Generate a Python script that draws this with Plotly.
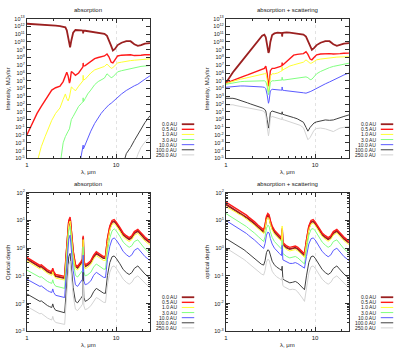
import plotly.graph_objects as go

# ---------------- data ----------------
labels = ["0.0 AU", "0.5 AU", "1.0 AU", "3.0 AU", "10.0 AU", "100.0 AU", "250.0 AU"]
colors = ["#9b2020", "#ff1a1a", "#ffff33", "#80ff80", "#5a5aff", "#404040", "#d3d3d3"]
widths = [1.8, 1.4, 1.0, 1.0, 1.0, 1.0, 1.0]

# wavelength grid for intensity panels (micron)
lam_int = [1.0, 1.1, 1.2, 1.3, 1.45, 1.6, 1.75, 1.9, 2.1, 2.35, 2.55, 2.7, 2.8, 2.9, 3.0,
           3.05, 3.15, 3.3, 3.5, 3.8, 4.1, 4.25, 4.27, 4.3, 4.5, 4.8, 5.2, 5.75, 6.3, 6.8,
           7.4, 7.9, 8.3, 8.8, 9.2, 9.7, 10.4, 11.5, 13, 14.5, 16, 17.5, 19, 21, 24]

# log10 intensity (MJy/sr), absorption only
abs_int_00 = [12.35, 12.33, 12.3, 12.28, 12.25, 12.22, 12.2, 12.15, 12.1, 12.05, 12.0, 11.9, 11.5, 10.5, 9.4,
              9.3, 10.2, 11.2, 11.55, 11.55, 11.5, 11.45, 11.1, 11.45, 11.45, 11.4, 11.35, 11.2, 11.15, 11.1,
              11.05, 10.8, 10.3, 9.5, 8.9, 9.1, 9.6, 9.9, 10.1, 10.1, 9.7, 9.5, 9.6, 9.8, 9.85]
abs_int_05 = [-2.0, -0.9, 0.0, 0.8, 1.7, 2.5, 3.2, 3.8, 4.1, 4.3, 4.9, 5.5, 6.1, 5.6, 4.7,
              5.0, 6.2, 6.0, 5.7, 6.0, 6.6, 6.8, 7.3, 6.9, 6.95, 7.2, 7.5, 7.85, 8.0, 8.1,
              8.2, 8.45, 8.1, 7.4, 7.3, 7.7, 8.2, 8.3, 8.35, 8.35, 8.25, 8.25, 8.3, 8.35, 8.35]
abs_int_10 = [-12.0, -10.0, -7.0, -5.5, -3.5, -2.2, -1.0, -0.1, 0.8, 1.5, 2.6, 3.3, 2.7, 2.4, 2.9,
              3.6, 4.2, 4.0, 3.7, 4.3, 4.8, 5.0, 5.7, 5.1, 5.2, 5.6, 6.0, 6.4, 6.6, 6.7,
              6.85, 7.15, 6.9, 6.6, 6.7, 7.0, 7.3, 7.4, 7.55, 7.6, 7.65, 7.7, 7.75, 7.8, 7.83]
abs_int_30 = [-20.0, -18.0, -17.0, -16.0, -15.0, -14.0, -13.0, -12.0, -10.0, -6.0, -3.0, -2.2, -1.7, -1.5, -1.2,
              -0.8, 0.0, 0.4, 1.0, 1.7, 2.1, 2.3, 2.8, 2.3, 2.7, 3.3, 3.8, 4.5, 4.9, 5.1,
              5.35, 5.9, 5.7, 5.4, 5.5, 5.8, 6.15, 6.3, 6.45, 6.55, 6.7, 6.8, 6.85, 6.9, 6.97]
abs_int_100 = [-30.0, -29.0, -28.0, -27.0, -26.0, -25.0, -24.0, -23.0, -22.0, -20.0, -18.0, -16.0, -15.0, -14.0, -13.0,
               -12.0, -11.0, -10.0, -9.0, -6.5, -4.3, -3.8, -3.3, -3.8, -3.2, -2.3, -1.5, -0.5, 0.3, 0.8,
               1.3, 1.7, 1.9, 2.1, 2.3, 2.6, 2.9, 3.3, 3.75, 4.1, 4.35, 4.55, 4.8, 5.2, 5.65]
abs_int_1000 = [-40.0] * 30 + [-30.0, -25.0, -20.0, -16.0, -14.0, -12.0, -10.0, -6.5, -4.4, -3.6, -2.7, -1.9, -1.2, -0.4, 0.5]
abs_int_2500 = [-40.0] * 35 + [-20.0, -16.0, -12.0, -9.0, -7.5, -5.8, -4.5, -3.6, -2.9, -2.2]

# log10 intensity (MJy/sr), absorption + scattering
sca_int_00 = [4.7, 5.5, 6.1, 6.6, 7.3, 7.9, 8.5, 9.0, 9.7, 10.3, 10.8, 10.95, 10.6, 9.6, 8.6,
              8.8, 10.0, 10.9, 11.1, 11.2, 11.2, 11.15, 10.7, 11.15, 11.2, 11.25, 11.2, 11.15, 11.1, 11.05,
              10.95, 10.7, 10.2, 9.4, 9.0, 9.2, 9.6, 9.9, 10.1, 10.1, 9.7, 9.5, 9.6, 9.8, 9.85]
sca_int_05 = [4.7, 4.9, 5.1, 5.25, 5.45, 5.6, 5.75, 5.9, 6.1, 6.3, 6.45, 6.6, 6.9, 6.0, 4.3,
              4.6, 6.3, 6.6, 6.6, 6.7, 6.85, 6.95, 7.35, 7.0, 7.2, 7.5, 7.9, 8.3, 8.4, 8.45,
              8.5, 8.75, 8.4, 7.8, 7.7, 8.0, 8.35, 8.45, 8.5, 8.5, 8.45, 8.45, 8.5, 8.55, 8.56]
sca_int_10 = [4.65, 4.8, 4.95, 5.05, 5.2, 5.3, 5.4, 5.5, 5.6, 5.7, 5.8, 5.9, 6.0, 5.2, 3.6,
              3.9, 5.6, 5.9, 5.9, 6.0, 6.2, 6.3, 6.8, 6.35, 6.5, 6.7, 6.9, 7.05, 7.2, 7.3,
              7.4, 7.7, 7.5, 7.25, 7.3, 7.5, 7.7, 7.8, 7.9, 7.95, 8.0, 8.05, 8.07, 8.1, 8.1]
sca_int_30 = [4.55, 4.65, 4.75, 4.8, 4.88, 4.92, 4.95, 4.97, 5.0, 5.0, 5.0, 5.0, 4.9, 4.3, 3.2,
              3.5, 4.8, 5.0, 5.0, 5.05, 5.1, 5.1, 5.45, 5.1, 5.1, 5.15, 5.2, 5.25, 5.3, 5.35,
              5.4, 5.5, 5.4, 5.15, 5.2, 5.5, 5.9, 6.2, 6.5, 6.7, 6.85, 6.95, 7.05, 7.15, 7.27]
sca_int_100 = [4.16, 4.22, 4.28, 4.32, 4.33, 4.33, 4.32, 4.3, 4.28, 4.25, 4.2, 4.15, 4.0, 3.2, 2.1,
               2.4, 3.7, 3.9, 3.85, 3.85, 3.8, 3.8, 4.2, 3.8, 3.75, 3.72, 3.7, 3.65, 3.6, 3.55,
               3.45, 3.4, 3.45, 3.6, 3.7, 3.85, 4.05, 4.3, 4.6, 4.85, 5.05, 5.3, 5.5, 5.75, 6.0]
sca_int_1000 = [2.74, 2.76, 2.74, 2.65, 2.5, 2.3, 2.15, 2.0, 1.85, 1.7, 1.5, 1.35, 1.1, 0.0, -1.1,
                -0.7, 0.9, 1.1, 1.0, 0.9, 0.75, 0.7, 1.0, 0.7, 0.62, 0.5, 0.4, 0.25, 0.1, -0.1,
                -0.35, -1.0, -1.5, -1.0, -0.7, -0.45, -0.3, -0.15, -0.05, -0.1, -0.05, 0.1, 0.2, 0.4, 0.6]
sca_int_2500 = [1.9, 1.95, 1.9, 1.8, 1.7, 1.6, 1.5, 1.45, 1.4, 1.3, 1.15, 1.0, 0.6, -0.9, -2.1,
                -1.6, 0.2, 0.4, 0.3, 0.2, 0.05, 0.0, 0.3, 0.0, -0.05, -0.15, -0.25, -0.4, -0.55, -0.75,
                -1.05, -1.8, -2.6, -2.3, -1.8, -1.4, -1.15, -1.1, -1.2, -1.4, -1.55, -1.3, -1.1, -1.0, -0.9]

# wavelength grid for optical depth panels (micron)
lam_tau = [1.0, 1.1, 1.2, 1.3, 1.4, 1.45, 1.5, 1.6, 1.7, 1.8, 1.9, 1.95, 2.0, 2.1, 2.3, 2.5, 2.65,
           2.75, 2.85, 2.95, 3.05, 3.15, 3.3, 3.5, 3.7, 4.0, 4.2, 4.27, 4.35, 4.5, 4.8, 5.2, 5.6,
           6.0, 6.4, 6.8, 7.2, 7.6, 8.0, 8.5, 9.0, 9.5, 10.0, 11, 12, 13, 14, 15, 16, 17.5, 19, 21, 24]

# log10 optical depth, absorption only
abs_tau_00 = [-0.39, -0.48, -0.56, -0.63, -0.68, -0.66, -0.7, -0.78, -0.84, -0.88, -0.91, -0.78, -0.91, -1.01, -1.04, -1.06, -1.08,
              -0.36, 0.54, 0.94, 1.06, 0.54, -0.16, -0.66, -0.71, -0.56, -0.46, 0.39, -0.51, -0.66, -0.61, -0.51, -0.31,
              -0.19, -0.24, -0.31, -0.36, -0.36, 0.29, 0.74, 0.94, 0.97, 0.89, 0.69, 0.49, 0.39, 0.32, 0.39, 0.54, 0.62, 0.49, 0.34, 0.19]
abs_tau_05 = [-0.33, -0.42, -0.5, -0.57, -0.62, -0.6, -0.64, -0.72, -0.78, -0.82, -0.85, -0.72, -0.85, -0.95, -0.98, -1.0, -1.02,
              -0.3, 0.6, 1.0, 1.12, 0.6, -0.1, -0.6, -0.65, -0.5, -0.4, 0.45, -0.45, -0.6, -0.55, -0.45, -0.25,
              -0.13, -0.18, -0.25, -0.3, -0.3, 0.35, 0.8, 1.0, 1.03, 0.95, 0.75, 0.55, 0.45, 0.38, 0.45, 0.6, 0.68, 0.55, 0.4, 0.25]
abs_tau_10 = [-0.46, -0.55, -0.63, -0.7, -0.75, -0.73, -0.77, -0.85, -0.91, -0.95, -0.98, -0.85, -0.98, -1.08, -1.11, -1.13, -1.15,
              -0.44, 0.46, 0.86, 0.98, 0.46, -0.24, -0.74, -0.79, -0.64, -0.54, 0.31, -0.59, -0.74, -0.69, -0.59, -0.39,
              -0.27, -0.32, -0.39, -0.44, -0.44, 0.21, 0.66, 0.86, 0.89, 0.81, 0.61, 0.41, 0.31, 0.24, 0.31, 0.46, 0.54, 0.41, 0.26, 0.11]
abs_tau_30 = [-0.79, -0.87, -0.94, -1.0, -1.05, -1.03, -1.07, -1.14, -1.2, -1.24, -1.27, -1.14, -1.27, -1.37, -1.41, -1.43, -1.45,
              -0.7, 0.22, 0.65, 0.78, 0.24, -0.46, -0.98, -1.04, -0.9, -0.8, 0.05, -0.86, -1.0, -0.96, -0.87, -0.68,
              -0.57, -0.63, -0.7, -0.75, -0.76, -0.1, 0.37, 0.62, 0.7, 0.63, 0.43, 0.22, 0.11, 0.03, 0.09, 0.24, 0.3, 0.15, -0.02, -0.19]
abs_tau_100 = [-1.12, -1.2, -1.27, -1.33, -1.38, -1.36, -1.4, -1.47, -1.53, -1.57, -1.6, -1.47, -1.6, -1.7, -1.74, -1.76, -1.78,
               -1.0, -0.1, 0.33, 0.47, -0.08, -0.8, -1.32, -1.38, -1.22, -1.12, -0.25, -1.18, -1.32, -1.28, -1.18, -0.98,
               -0.87, -0.93, -1.0, -1.05, -1.06, -0.4, 0.07, 0.32, 0.37, 0.3, 0.1, -0.12, -0.23, -0.31, -0.24, -0.08, -0.0, -0.15, -0.3, -0.45]
abs_tau_1000 = [-1.65, -1.73, -1.8, -1.87, -1.92, -1.9, -1.94, -2.01, -2.07, -2.11, -2.14, -2.01, -2.14, -2.24, -2.28, -2.31, -2.33,
                -1.62, -0.72, -0.3, -0.19, -0.72, -1.42, -1.92, -1.97, -1.82, -1.72, -0.87, -1.77, -1.92, -1.87, -1.77, -1.57,
                -1.45, -1.5, -1.57, -1.62, -1.63, -0.98, -0.52, -0.31, -0.28, -0.36, -0.56, -0.77, -0.88, -0.95, -0.88, -0.73, -0.64, -0.77, -0.93, -1.09]
abs_tau_2500 = [-2.1, -2.18, -2.25, -2.32, -2.37, -2.35, -2.39, -2.46, -2.52, -2.56, -2.59, -2.46, -2.59, -2.68, -2.71, -2.73, -2.75,
                -2.0, -1.05, -0.6, -0.47, -1.0, -1.7, -2.2, -2.25, -2.12, -2.02, -1.2, -2.08, -2.22, -2.18, -2.08, -1.9,
                -1.78, -1.83, -1.9, -1.95, -1.96, -1.32, -0.87, -0.67, -0.64, -0.72, -0.92, -1.12, -1.23, -1.3, -1.23, -1.08, -1.0, -1.12, -1.28, -1.44]

# log10 optical depth, absorption + scattering
sca_tau_00 = [1.58, 1.5, 1.42, 1.35, 1.29, 1.27, 1.24, 1.17, 1.11, 1.05, 0.99, 0.98, 0.93, 0.88, 0.76, 0.66, 0.59,
              0.78, 1.08, 1.18, 1.13, 0.93, 0.73, 0.58, 0.48, 0.38, 0.32, 0.66, 0.14, 0.09, 0.02, -0.03, -0.01,
              0.02, -0.03, -0.11, -0.18, -0.26, 0.24, 0.74, 0.94, 0.97, 0.89, 0.69, 0.49, 0.39, 0.32, 0.39, 0.54, 0.62, 0.49, 0.34, 0.19]
sca_tau_05 = [1.66, 1.58, 1.5, 1.43, 1.36, 1.35, 1.32, 1.25, 1.19, 1.12, 1.06, 1.05, 1.0, 0.95, 0.83, 0.73, 0.66,
              0.85, 1.15, 1.25, 1.2, 1.0, 0.8, 0.65, 0.55, 0.45, 0.38, 0.72, 0.2, 0.15, 0.08, 0.03, 0.05,
              0.08, 0.03, -0.05, -0.12, -0.2, 0.3, 0.8, 1.0, 1.03, 0.95, 0.75, 0.55, 0.45, 0.38, 0.45, 0.6, 0.68, 0.55, 0.4, 0.25]
sca_tau_10 = [1.5, 1.43, 1.35, 1.29, 1.22, 1.21, 1.18, 1.11, 1.05, 0.99, 0.93, 0.92, 0.87, 0.82, 0.7, 0.6, 0.53,
              0.72, 1.01, 1.11, 1.06, 0.86, 0.66, 0.51, 0.41, 0.31, 0.25, 0.8, 0.07, 0.02, -0.05, -0.1, -0.08,
              -0.05, -0.1, -0.18, -0.25, -0.33, 0.17, 0.67, 0.87, 0.9, 0.82, 0.62, 0.42, 0.32, 0.25, 0.32, 0.47, 0.55, 0.42, 0.27, 0.12]
sca_tau_30 = [1.25, 1.17, 1.09, 1.02, 0.95, 0.94, 0.91, 0.84, 0.78, 0.71, 0.65, 0.64, 0.59, 0.54, 0.42, 0.31, 0.24,
              0.42, 0.72, 0.83, 0.79, 0.59, 0.39, 0.24, 0.14, 0.04, -0.03, 0.3, -0.19, -0.24, -0.3, -0.35, -0.33,
              -0.3, -0.35, -0.42, -0.49, -0.57, -0.05, 0.46, 0.68, 0.71, 0.63, 0.43, 0.22, 0.11, 0.03, 0.09, 0.24, 0.3, 0.15, -0.02, -0.19]
sca_tau_100 = [1.0, 0.92, 0.84, 0.77, 0.7, 0.69, 0.66, 0.59, 0.53, 0.46, 0.4, 0.39, 0.34, 0.29, 0.17, 0.06, -0.01,
               0.17, 0.47, 0.58, 0.55, 0.35, 0.15, 0.0, -0.1, -0.2, -0.27, 0.1, -0.42, -0.45, -0.5, -0.55, -0.55,
               -0.52, -0.56, -0.62, -0.68, -0.72, -0.3, 0.15, 0.34, 0.37, 0.3, 0.1, -0.12, -0.23, -0.31, -0.24, -0.08, -0.0, -0.15, -0.3, -0.45]
sca_tau_1000 = [0.35, 0.27, 0.19, 0.12, 0.05, 0.04, 0.01, -0.06, -0.13, -0.2, -0.26, -0.27, -0.32, -0.37, -0.49, -0.58, -0.61,
                -0.45, -0.16, -0.06, -0.09, -0.28, -0.47, -0.6, -0.68, -0.75, -0.8, -0.65, -1.1, -1.15, -1.2, -1.25, -1.23,
                -1.2, -1.25, -1.33, -1.42, -1.5, -1.0, -0.52, -0.31, -0.28, -0.36, -0.56, -0.77, -0.88, -0.95, -0.88, -0.73, -0.64, -0.77, -0.93, -1.09]
sca_tau_2500 = [0.01, -0.07, -0.15, -0.23, -0.3, -0.31, -0.34, -0.41, -0.48, -0.55, -0.61, -0.62, -0.67, -0.72, -0.84, -0.93, -0.97,
                -0.8, -0.5, -0.4, -0.43, -0.63, -0.83, -0.95, -1.03, -1.1, -1.15, -1.05, -1.35, -1.39, -1.44, -1.5, -1.48,
                -1.5, -1.58, -1.68, -1.8, -1.92, -1.4, -0.9, -0.67, -0.64, -0.72, -0.92, -1.12, -1.23, -1.3, -1.23, -1.08, -1.0, -1.12, -1.28, -1.44]

panels = [
    dict(lam=lam_int, series=[abs_int_00, abs_int_05, abs_int_10, abs_int_30, abs_int_100, abs_int_1000, abs_int_2500],
         title="absorption", ytitle="Intensity, MJy/sr"),
    dict(lam=lam_int, series=[sca_int_00, sca_int_05, sca_int_10, sca_int_30, sca_int_100, sca_int_1000, sca_int_2500],
         title="absorption + scattering", ytitle="Intensity, MJy/sr"),
    dict(lam=lam_tau, series=[abs_tau_00, abs_tau_05, abs_tau_10, abs_tau_30, abs_tau_100, abs_tau_1000, abs_tau_2500],
         title="absorption", ytitle="Optical depth"),
    dict(lam=lam_tau, series=[sca_tau_00, sca_tau_05, sca_tau_10, sca_tau_30, sca_tau_100, sca_tau_1000, sca_tau_2500],
         title="absorption + scattering", ytitle="optical depth"),
]

int_decades = list(range(-5, 14))
tau_decades = list(range(-3, 3))

# ---------------- layout helpers (pixel -> paper) ----------------
W, H = 400, 354
def px(x):
    return x / W
def py(y):
    return 1 - y / H

FONT = "Liberation Sans, Arial, sans-serif"
x_dom = [(25, 148.7), (225, 348.7)]
y_dom = [(16, 158), (193, 334)]

fig = go.Figure()
layout = dict(width=W, height=H, margin=dict(l=0, r=0, t=0, b=0),
              paper_bgcolor="white", plot_bgcolor="white", showlegend=False,
              font=dict(family=FONT, size=6, color="#202020"))
annotations = []
shapes = []

minor_x = [2, 3, 4, 5, 6, 7, 8, 9, 20]

for i, p in enumerate(panels):
    col = i % 2
    row = i // 2
    ax = "" if i == 0 else str(i + 1)
    xd = x_dom[col]
    yd = y_dom[row]
    for k, s in enumerate(p["series"]):
        fig.add_trace(go.Scatter(
            x=p["lam"], y=[10 ** v for v in s], mode="lines",
            line=dict(color=colors[k], width=widths[k]),
            name=labels[k], xaxis="x" + ax, yaxis="y" + ax, hoverinfo="skip"))
    decades = int_decades if row == 0 else tau_decades
    yminor = []
    if row == 1:
        for d in decades[:-1]:
            for m in range(2, 10):
                yminor.append(m * 10 ** d)
    layout["xaxis" + ax] = dict(
        type="log", domain=[px(xd[0]), px(xd[1])], range=[0, 1.379],
        anchor="y" + ax, tickmode="array", tickvals=[1, 10], ticktext=["1", "10"],
        ticks="inside", ticklen=4, tickcolor="#303030", showline=True, linecolor="#303030",
        linewidth=1, mirror="allticks", showgrid=True, gridcolor="#e2e2e2", griddash="dot",
        gridwidth=1, zeroline=False, tickfont=dict(size=6),
        minor=dict(tickmode="array", tickvals=minor_x, ticks="inside", ticklen=2,
                   tickcolor="#303030", showgrid=False))
    layout["yaxis" + ax] = dict(
        type="log", domain=[py(yd[1]), py(yd[0])], range=[decades[0], decades[-1]],
        anchor="x" + ax, tickmode="array", tickvals=[10 ** d for d in decades],
        ticktext=["10<sup>%d</sup>" % d for d in decades],
        ticks="inside", ticklen=4, tickcolor="#303030", showline=True, linecolor="#303030",
        linewidth=1, mirror="allticks", showgrid=False, zeroline=False, tickfont=dict(size=5.5),
        minor=dict(tickmode="array", tickvals=yminor, ticks="inside" if yminor else "",
                   ticklen=2, tickcolor="#303030", showgrid=False))
    cx = (xd[0] + xd[1]) / 2
    cy = (yd[0] + yd[1]) / 2
    annotations.append(dict(text=p["title"], x=px(cx), y=py(yd[0] - 8.5), xref="paper", yref="paper",
                            showarrow=False, xanchor="center", yanchor="middle", font=dict(size=6)))
    annotations.append(dict(text="λ, μm", x=px(cx), y=py(yd[1] + 14), xref="paper", yref="paper",
                            showarrow=False, xanchor="center", yanchor="middle", font=dict(size=6)))
    annotations.append(dict(text=p["ytitle"], x=px(col * 200 + 6), y=py(cy), xref="paper", yref="paper",
                            showarrow=False, xanchor="center", yanchor="middle", textangle=-90,
                            font=dict(size=6)))
    # key (bottom-right, outside plot area)
    for k in range(len(labels)):
        ry = yd[1] - 3.5 - (len(labels) - 1 - k) * 5.2
        annotations.append(dict(text=labels[k], x=px(xd[1] + 29.5), y=py(ry), xref="paper", yref="paper",
                                showarrow=False, xanchor="right", yanchor="middle", font=dict(size=5)))
        shapes.append(dict(type="line", xref="paper", yref="paper",
                           x0=px(xd[1] + 32), x1=px(xd[1] + 44.5), y0=py(ry), y1=py(ry),
                           line=dict(color=colors[k], width=widths[k])))

layout["annotations"] = annotations
layout["shapes"] = shapes
fig.update_layout(**layout)
fig.write_html("out.html")
